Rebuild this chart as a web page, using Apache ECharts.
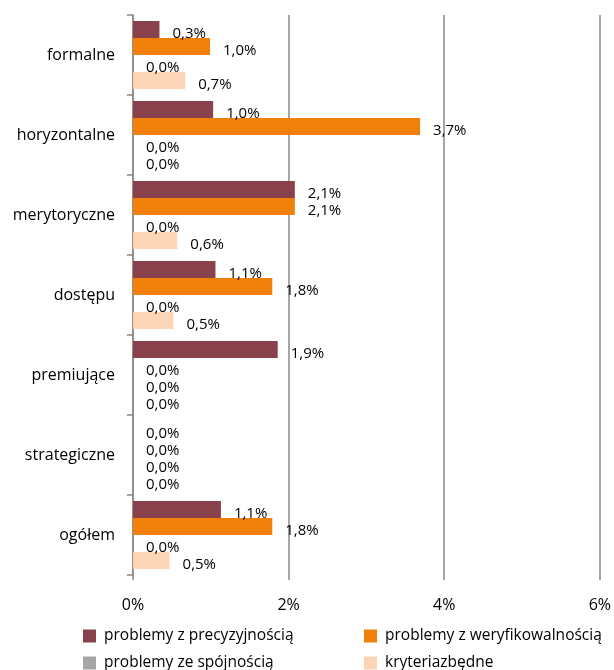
<!DOCTYPE html>
<html>
<head>
<meta charset="utf-8">
<script src="https://cdn.jsdelivr.net/npm/echarts@6/dist/echarts.min.js"></script>
<style>
  html, body { margin: 0; padding: 0; background: #fff; }
  #chart { width: 614px; height: 670px; }
</style>
</head>
<body>
<div id="chart"></div>
<script>
// kategorie kryteriów (od góry)
const categories = ['formalne', 'horyzontalne', 'merytoryczne', 'dostępu', 'premiujące', 'strategiczne', 'ogółem'];

// wartości w %
const precyzyjnosc    = [0.34, 1.03, 2.08, 1.06, 1.86, 0, 1.13];
const weryfikowalnosc = [0.99, 3.69, 2.08, 1.79, 0, 0, 1.79];
const spojnosc        = [0, 0, 0, 0, 0, 0, 0];
const zbedne          = [0.67, 0, 0.57, 0.52, 0, 0, 0.47];

const seriesNames = ['problemy z precyzyjnością', 'problemy z weryfikowalnością', 'problemy ze spójnością', 'kryteriazbędne'];
const seriesColors = ['#89414B', '#F08009', '#A6A6A6', '#FBD5B5'];
const xTicks = [0, 2, 4, 6];

const font = '"Open Sans", sans-serif';

let chartDom = document.getElementById('chart');
let myChart = echarts.init(chartDom);

function makeSeries(name, data, color) {
  return {
    name: name,
    type: 'bar',
    data: data,
    barGap: '0%',
    barCategoryGap: '15%',
    itemStyle: { color: color },
    label: {
      show: true,
      position: 'right',
      distance: 13,
      offset: [0, 4],
      color: '#000',
      fontFamily: font,
      fontSize: 15,
      formatter: p => p.value.toFixed(1).replace('.', ',') + '%'
    }
  };
}

// legenda w dwóch kolumnach
function makeLegend(name, left, top) {
  return {
    left: left,
    top: top,
    padding: 0,
    itemWidth: 13,
    itemHeight: 13,
    itemGap: 0,
    icon: 'rect',
    data: [name],
    textStyle: { color: '#000', fontFamily: font, fontSize: 15.5, padding: [0, 0, 0, 3] }
  };
}

let option = {
  animation: false,
  grid: { left: 133, right: 13, top: 15, bottom: 95 },
  xAxis: {
    type: 'value',
    min: xTicks[0],
    max: xTicks[xTicks.length - 1],
    interval: 2,
    axisLine: { show: false },
    axisTick: { show: true, length: 5, lineStyle: { color: '#888', width: 1.5 } },
    splitLine: { show: true, lineStyle: { color: '#888', width: 1.5 } },
    axisLabel: {
      color: '#000',
      fontFamily: font,
      fontSize: 16,
      margin: 22,
      formatter: v => v + '%'
    }
  },
  yAxis: {
    type: 'category',
    inverse: true,
    data: categories,
    axisLine: { show: true, lineStyle: { color: '#888', width: 1.5 } },
    axisTick: { show: true, length: 6, lineStyle: { color: '#888', width: 1.5 } },
    axisLabel: {
      color: '#000',
      fontFamily: font,
      fontSize: 16,
      margin: 18
    }
  },
  legend: [
    makeLegend(seriesNames[0], 83, 628),
    makeLegend(seriesNames[2], 83, 655),
    makeLegend(seriesNames[1], 364, 628),
    makeLegend(seriesNames[3], 364, 655)
  ],
  series: [
    makeSeries(seriesNames[0], precyzyjnosc, seriesColors[0]),
    makeSeries(seriesNames[1], weryfikowalnosc, seriesColors[1]),
    makeSeries(seriesNames[2], spojnosc, seriesColors[2]),
    makeSeries(seriesNames[3], zbedne, seriesColors[3])
  ]
};
myChart.setOption(option);
</script>
</body>
</html>
